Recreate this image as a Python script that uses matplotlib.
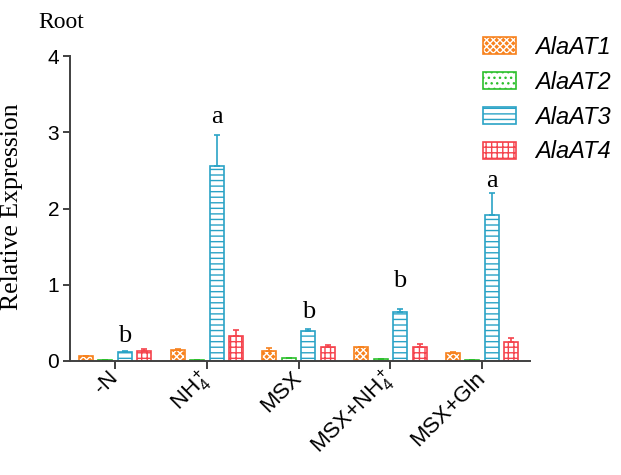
import numpy as np
import matplotlib
matplotlib.use("Agg")
import matplotlib.pyplot as plt
import matplotlib.transforms as mtransforms

plt.rcParams['font.family'] = ['Liberation Sans', 'DejaVu Sans']
plt.rcParams['mathtext.fontset'] = 'custom'
plt.rcParams['mathtext.rm'] = 'Liberation Sans'
plt.rcParams['mathtext.it'] = 'Liberation Sans:italic'
plt.rcParams['mathtext.default'] = 'regular'
plt.rcParams['hatch.linewidth'] = 1.0

# data
treatments = ['-N', 'NH$_4^+$', 'MSX', 'MSX+NH$_4^+$', 'MSX+Gln']
genes = ['AlaAT1', 'AlaAT2', 'AlaAT3', 'AlaAT4']
alaat1 = [0.06, 0.15, 0.13, 0.18, 0.11]
alaat1_err = [0.01, 0.01, 0.04, 0.01, 0.01]
alaat2 = [0.01, 0.01, 0.035, 0.03, 0.01]
alaat2_err = [0.0, 0.0, 0.0, 0.0, 0.0]
alaat3 = [0.12, 2.56, 0.40, 0.64, 1.91]
alaat3_err = [0.01, 0.40, 0.02, 0.04, 0.29]
alaat4 = [0.13, 0.33, 0.18, 0.19, 0.25]
alaat4_err = [0.03, 0.08, 0.03, 0.03, 0.05]
sig_letters = ['b', 'a', 'b', 'b', 'a']
sig_y = [0.25, 3.12, 0.56, 0.97, 2.28]

values = [alaat1, alaat2, alaat3, alaat4]
errors = [alaat1_err, alaat2_err, alaat3_err, alaat4_err]
colors = ['#F7821E', '#2EC02E', '#2AA3C6', '#F5434D']
hatches = ['xxxxx', '...', '---', '+++']

fig = plt.figure(figsize=(6.21, 4.75), dpi=100)
ax = fig.add_axes([0.113, 0.24, 0.74, 0.642])

x = np.arange(len(treatments))
width = 0.153
step = 0.213
handles = []
for i in range(len(genes)):
	pos = x + (i - 1.5) * step
	if i == 0:
		# orange fill with white pattern
		b1 = ax.bar(pos, values[i], width, color=colors[i], edgecolor='white', hatch=hatches[i], linewidth=0)
		b2 = ax.bar(pos, values[i], width, fill=False, edgecolor=colors[i], linewidth=1.2)
		handles.append((b1[0], b2[0]))
	else:
		b = ax.bar(pos, values[i], width, color='white', edgecolor=colors[i], hatch=hatches[i], linewidth=1.2)
		handles.append(b[0])
	ax.errorbar(pos, values[i], yerr=[np.zeros(len(x)), errors[i]], fmt='none',
				ecolor=colors[i], elinewidth=1.2, capsize=2.5, capthick=1.2)

for xi, letter, yy in zip(x, sig_letters, sig_y):
	ax.text(xi + 0.5 * step, yy, letter, ha='center', va='baseline',
			fontsize=19, family='Liberation Serif')

ax.set_xlim(-0.49, 4.52)
ax.set_ylim(0, 4)
ax.set_yticks([0, 1, 2, 3, 4])
ax.set_xticks(x)
ax.set_xticklabels(treatments, rotation=45, ha='right', va='center', rotation_mode='anchor', fontsize=16)
offset = mtransforms.ScaledTranslation(9/100, -11/100, fig.dpi_scale_trans)
for lab in ax.get_xticklabels():
	lab.set_transform(lab.get_transform() + offset)

for s in ['top', 'right']:
	ax.spines[s].set_visible(False)
for s in ['left', 'bottom']:
	ax.spines[s].set_linewidth(1.4)
	ax.spines[s].set_color('#404040')
ax.tick_params(axis='y', direction='out', length=5, width=1.4, color='#404040', labelsize=15, pad=3)
ax.tick_params(axis='x', direction='out', length=6, width=1.4, color='#404040', pad=4)

ax.set_ylabel('Relative Expression', fontsize=18.5, family='Liberation Serif')
ax.yaxis.set_label_coords(-0.102, 0.505)

fig.text(38/621, 1-28/475, 'Root', fontsize=17, family='Liberation Serif', va='baseline')

leg = fig.legend(handles, genes, loc='upper left', bbox_to_anchor=(483/621, 1-36/475),
				 frameon=False, borderpad=0, fontsize=17, handlelength=1.4, handleheight=0.75,
				 handletextpad=0.8, labelspacing=0.5, borderaxespad=0)
for t in leg.get_texts():
	t.set_fontstyle('italic')

fig.savefig('out.png', dpi=100)
plt.close(fig)
